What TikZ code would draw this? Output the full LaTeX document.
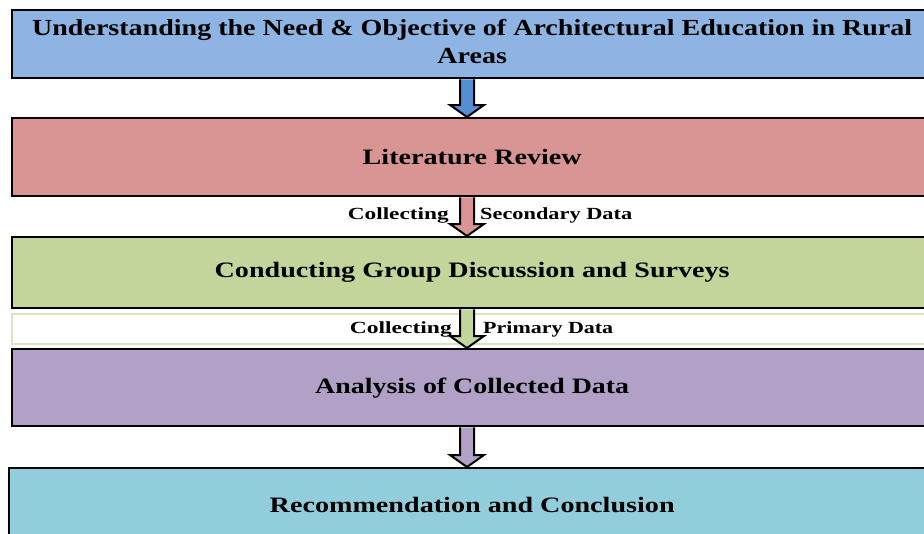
\documentclass[tikz,border=0pt]{standalone}
\usepackage{fontspec}
\setmainfont{Liberation Serif}
\usetikzlibrary{calc}
\definecolor{cblue}{RGB}{141,180,226}
\definecolor{cred}{RGB}{217,149,148}
\definecolor{cgreen}{RGB}{194,214,155}
\definecolor{cpurple}{RGB}{178,161,199}
\definecolor{ccyan}{RGB}{146,205,220}
\definecolor{ablue}{RGB}{85,142,213}
\definecolor{lgreen}{RGB}{215,228,189}
\newcommand\hfit[2]{\resizebox{#1pt}{\height}{#2}}
\newcommand\barrow[3]{%
  \path[barrowline, fill=#3] let \p1=(#1.south -| ax), \p2=(#2.north -| ax) in
    (\x1-7pt,\y1) -- (\x1-7pt,\y2+12pt) -- (\x1-17pt,\y2+12pt) -- (\x1,\y2)
    -- (\x1+17pt,\y2+12pt) -- (\x1+7pt,\y2+12pt) -- (\x1+7pt,\y1);}
\tikzset{
  box/.style={draw=black, line width=2.4pt, anchor=north west, minimum width=920pt,
    inner sep=0pt, font=\fontsize{22}{26}\selectfont\bfseries},
  lbl/.style={inner sep=0pt, font=\fontsize{17}{19}\selectfont\bfseries},
  barrowline/.style={draw=black, line width=2pt, line join=miter},
  band/.style={draw=lgreen, line width=2pt, fill=white, anchor=north west,
    minimum width=925pt, minimum height=30pt, inner sep=0pt},
}
\begin{document}
\begin{tikzpicture}[x=1pt,y=-1pt]
\useasboundingbox (0,0) rectangle (924,533);
\clip (0,0) rectangle (924,533);
\coordinate (ax) at (467,0);
\node[box, fill=cblue, minimum height=68pt] (b1) at (11,9)
  {\fontsize{23}{28}\selectfont\hfit{880}{\begin{tabular}{@{}c@{}}Understanding the Need \& Objective of Architectural Education in Rural\\Areas\end{tabular}}};
\node[box, fill=cred, minimum height=78pt] (b2) at (11,117) {\hfit{219}{Literature Review}};
\node[box, fill=cgreen, minimum height=71pt] (b3) at (11,236) {\hfit{515}{Conducting Group Discussion and Surveys}};
\node[band] (bd) at (11,313) {};
\node[box, fill=cpurple, minimum height=77pt] (b4) at (11,348) {\hfit{314}{Analysis of Collected Data}};
\node[box, fill=ccyan, minimum height=73pt, minimum width=926pt] (b5) at (8,467) {\hfit{405}{Recommendation and Conclusion}};
\barrow{b1}{b2}{ablue}
\barrow{b2}{b3}{cred}
\barrow{b3}{b4}{cgreen}
\barrow{b4}{b5}{cpurple}
\node[lbl, anchor=east] (l1) at (449,215) {\hfit{101}{Collecting}};
\node[lbl, anchor=west] (l2) at (480,215) {\hfit{152}{Secondary Data}};
\node[lbl, anchor=east] (l3) at (452,329) {\hfit{102}{Collecting}};
\node[lbl, anchor=west] (l4) at (483,329) {\hfit{130}{Primary Data}};
\end{tikzpicture}
\end{document}
